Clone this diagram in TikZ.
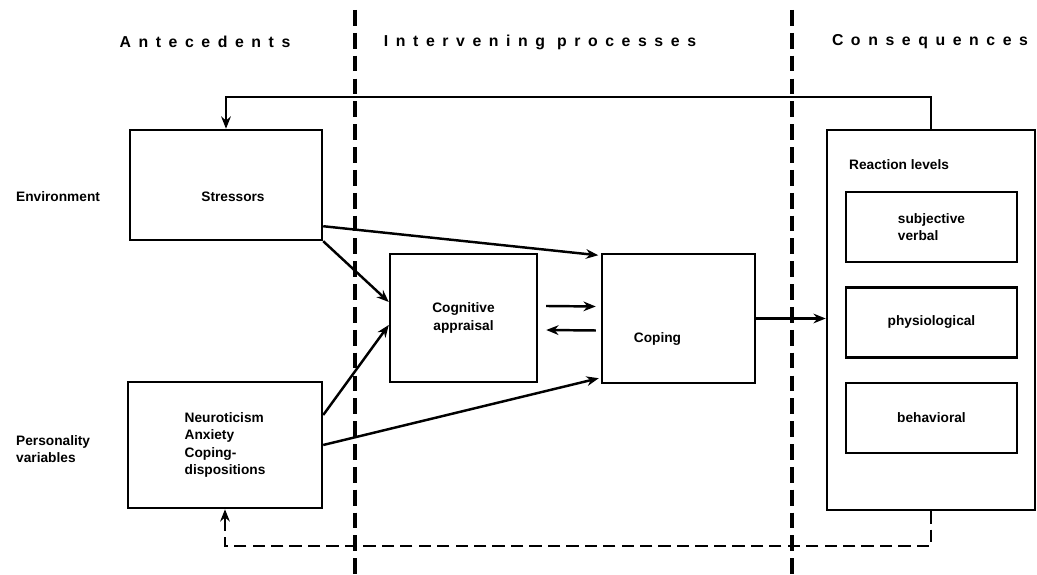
\documentclass[tikz,border=0pt]{standalone}
\usepackage{fontspec}
\setmainfont{Liberation Sans}
\newfontfamily\headfont[LetterSpace=48]{Liberation Sans}
\usetikzlibrary{positioning,arrows.meta}

\begin{document}
\begin{tikzpicture}
[node distance = 0.46cm, font=\fontsize{7.8}{10}\selectfont\bfseries,
box/.style={draw, line width=1.4pt, inner sep=2pt},
sub/.style={box, minimum width=3.42cm, minimum height=1.4cm},
arr/.style={line width=1.4pt, -{Stealth[length=7pt,width=5.5pt]}},
divider/.style={line width=2pt, dash pattern=on 9pt off 4pt},
fb/.style={line width=1.4pt, dash pattern=on 7pt off 3.5pt, -{Stealth[length=7pt,width=5.5pt]}},
head/.style={font=\headfont\fontsize{9}{11}\selectfont\bfseries}]

\useasboundingbox (0,0) rectangle (20.74,-11.5);

% headers and dividers
\node (ante) at (4.1,-0.84) [head] {Antecedents};
\node (inter) at (10.8,-0.84) [head] {Intervening processes};
\node (cons-h) at (18.6,-0.84) [head] {Consequences};
\coordinate (d1t) at (7.1,-0.2);
\coordinate (d1b) at (7.1,-11.5);
\coordinate (d2t) at (15.84,-0.2);
\coordinate (d2b) at (15.84,-11.5);
\draw[divider] (d1t) -- (d1b);
\draw[divider] (d2t) -- (d2b);

% antecedents
\node (str) at (4.52,-3.7) [box, minimum width=3.84cm, minimum height=2.2cm] {};
\node (str-t) at (4.66,-3.94) {Stressors};
\node (pers) at (4.5,-8.9) [box, minimum width=3.88cm, minimum height=2.52cm, align=left] {Neuroticism\\Anxiety\\Coping-\\dispositions};
\node (env) at (0.2,-3.94) [anchor=west] {Environment};
\node (pvar) at (0.2,-8.98) [anchor=west, align=left] {Personality\\variables};

% intervening processes
\node (cog) at (9.27,-6.36) [box, minimum width=2.94cm, minimum height=2.56cm, align=center] {Cognitive\\appraisal};
\node (cop) at (13.57,-6.37) [box, minimum width=3.06cm, minimum height=2.58cm] {};
\node (cop-t) at (13.15,-6.78) {Coping};

% consequences
\node (cons) at (18.62,-6.4) [box, minimum width=4.16cm, minimum height=7.6cm] {};
\node (react) at (16.86,-3.3) [anchor=west] {Reaction levels};
\node (subj) at (18.63,-4.54) [sub, align=left] {subjective\\verbal};
\node (phys) [sub, below=of subj] {physiological};
\node (beh) [sub, below=of phys] {behavioral};

\draw[arr] ([yshift=0.3cm]str.south east) -- ([shift={(-0.05,-0.05)}]cop.north west);
\draw[arr] (str.south east) -- ([yshift=0.32cm]cog.west);
\draw[arr] ([yshift=0.6cm]pers.east) -- ([yshift=-0.14cm]cog.west);
\draw[arr] (pers.east) -- ([shift={(-0.04,0.12)}]cop.south west);
\draw[arr] ([shift={(0.16,0.24)}]cog.east) -- ([shift={(-0.1,0.24)}]cop.west);
\draw[arr] ([shift={(-0.1,-0.24)}]cop.west) -- ([shift={(0.16,-0.24)}]cog.east);
\draw[arr] (cop.east) -- (cop.east -| cons.west);

% feedback loops
\draw[arr] (cons.north) -- ++(0,0.64) -| (str.north);
\draw[fb] (cons.south) -- ++(0,-0.7) -| (pers.south);
\end{tikzpicture}
\end{document}
